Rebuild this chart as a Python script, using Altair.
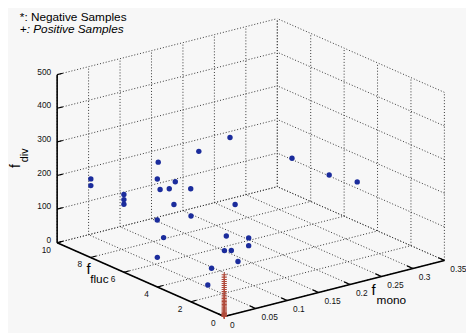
import altair as alt
import pandas as pd

# ---------------- data ----------------
neg_mono = [0.027, 0.027, 0.053, 0.053, 0.053, 0.142, 0.119, 0.081, 0.214, 0.053,
            0.055, 0.084, 0.072, 0.053, 0.106, 0.097, 0.080, 0.106, 0.063, 0.083,
            0.092, 0.092, 0.080, 0.091, 0.053, 0.075, 0.033, 0.027, 0.220, 0.238]
neg_fluc = [9, 9, 8, 8, 8, 5, 6, 7, 4, 6,
            5, 7, 6, 4, 7, 3, 5, 8, 6, 3,
            2, 2, 3, 3, 6, 2, 2, 2, 2, 1]
neg_div = [199, 179, 162, 147, 133, 355, 303, 267, 281, 252,
           265, 184, 214, 267, 129, 221, 151, 61, 73, 134,
           146, 123, 92, 87, 19, 84, 84, 37, 272, 265]

pos_div = [124, 117, 110, 104, 98, 92, 86, 80, 74, 69, 63, 58, 53, 48, 44, 40,
           36, 32, 28, 25, 22, 19, 16, 13, 11, 9, 7, 5, 3, 2, 1, 0]
pos_mono = [0.0] * len(pos_div)
pos_fluc = [0.0] * len(pos_div)

mono_ticks = [0, 0.05, 0.1, 0.15, 0.2, 0.25, 0.3, 0.35]
mono_labels = ["0", "0.05", "0.1", "0.15", "0.2", "0.25", "0.3", "0.35"]
fluc_ticks = [0, 2, 4, 6, 8, 10]
fluc_labels = ["0", "2", "4", "6", "8", "10"]
div_ticks = [0, 100, 200, 300, 400, 500]
div_labels = ["0", "100", "200", "300", "400", "500"]

legend_lines = ["*: Negative Samples", "+: Positive Samples"]

# ---------------- view (fixed 3-D projection) ----------------
O = (228, 319)          # screen position of (mono=0, fluc=0, div=0)
VM = (640, -162.9)      # per unit f_mono
VF = (-17, -7.5)        # per unit f_fluc
VZ = (0, -0.342)        # per unit f_div
M_MAX, F_MAX, Z_MAX = 0.35, 10, 500


def px(s=""):
    return f"{O[0]} + {VM[0]}*datum.m{s} + {VF[0]}*datum.f{s} + {VZ[0]}*datum.z{s}"


def py(s=""):
    return f"{O[1]} + {VM[1]}*datum.m{s} + {VF[1]}*datum.f{s} + {VZ[1]}*datum.z{s}"


W, H = 466, 325
XS = alt.Scale(domain=[8, 8 + W], nice=False, zero=False)
YS = alt.Scale(domain=[8, 8 + H], nice=False, zero=False, reverse=True)


def X(f="px"):
    return alt.X(f"{f}:Q", scale=XS, axis=None)


def Y(f="py"):
    return alt.Y(f"{f}:Q", scale=YS, axis=None)


def seg_chart(df, **mark):
    return (alt.Chart(df).mark_rule(**mark)
            .transform_calculate(px=px(), py=py(), px2=px("2"), py2=py("2"))
            .encode(x=X(), y=Y(), x2="px2:Q", y2="py2:Q"))


# grid segments on the floor and the two back walls
grid = []
for m in mono_ticks:
    grid.append((m, 0, 0, m, F_MAX, 0))
    grid.append((m, F_MAX, 0, m, F_MAX, Z_MAX))
for f in fluc_ticks:
    grid.append((0, f, 0, M_MAX, f, 0))
    grid.append((M_MAX, f, 0, M_MAX, f, Z_MAX))
for z in div_ticks:
    grid.append((0, F_MAX, z, M_MAX, F_MAX, z))
    grid.append((M_MAX, 0, z, M_MAX, F_MAX, z))
grid_df = pd.DataFrame(grid, columns=["m", "f", "z", "m2", "f2", "z2"])

axes_df = pd.DataFrame([(0, F_MAX, 0, 0, F_MAX, Z_MAX),
                        (0, 0, 0, 0, F_MAX, 0),
                        (0, 0, 0, M_MAX, 0, 0)],
                       columns=["m", "f", "z", "m2", "f2", "z2"])

ticks = []
for z in div_ticks:
    ticks.append((0, F_MAX, z, 0.009, F_MAX, z))
for f in fluc_ticks:
    ticks.append((0, f, 0, 0.009, f, 0))
for m in mono_ticks:
    ticks.append((m, 0, 0, m, 0.35, 0))
ticks_df = pd.DataFrame(ticks, columns=["m", "f", "z", "m2", "f2", "z2"])

grid_layer = seg_chart(grid_df, color="#333333", strokeWidth=1, strokeDash=[1, 2])
axes_layer = seg_chart(axes_df, color="#000000", strokeWidth=1.6)
ticks_layer = seg_chart(ticks_df, color="#000000", strokeWidth=1.2)

FONT = "Liberation Sans"


def label_chart(df, **mark):
    return (alt.Chart(df).mark_text(font=FONT, fontSize=8.5, color="#111111",
                                    baseline="middle", **mark)
            .transform_calculate(px=px(), py=py())
            .encode(x=X(), y=Y(), text="t:N"))


zlab = pd.DataFrame({"m": 0.0, "f": F_MAX, "z": div_ticks, "t": div_labels})
flab = pd.DataFrame({"m": 0.0, "f": fluc_ticks, "z": 0.0, "t": fluc_labels})
mlab = pd.DataFrame({"m": mono_ticks, "f": 0.0, "z": 0.0, "t": mono_labels})

zlab_layer = label_chart(zlab, align="right", dx=-6, dy=-3)
flab_layer = label_chart(flab, align="center", dx=-11, dy=7)
mlab_layer = label_chart(mlab, align="left", dx=6, dy=9)

neg_df = pd.DataFrame({"m": neg_mono, "f": neg_fluc, "z": neg_div})
pos_df = pd.DataFrame({"m": pos_mono, "f": pos_fluc, "z": pos_div})

neg_layer = (alt.Chart(neg_df).mark_point(shape="circle", filled=True, size=30,
                                          color="#1b2c9c", opacity=1)
             .transform_calculate(px=px(), py=py())
             .encode(x=X(), y=Y()))
pos_layer = (alt.Chart(pos_df).mark_point(shape="M-1,0H1M0,-1V1", filled=False, size=28,
                                          color="#b04a3a", strokeWidth=1.1, opacity=1)
             .transform_calculate(px=px(), py=py())
             .encode(x=X(), y=Y()))


def txt(t, x, y, size, angle=0, style="normal"):
    return (alt.Chart(pd.DataFrame({"t": [t]}))
            .mark_text(font=FONT, fontSize=size, color="#000000", align="center",
                       baseline="middle", angle=angle, fontStyle=style)
            .encode(x=alt.value(x - 8), y=alt.value(y - 8), text="t:N"))


titles = [
    txt("f", 16, 166, 14, angle=270),
    txt("div", 25, 155, 11, angle=270),
    txt("f", 90, 271, 15),
    txt("fluc", 101, 281, 12),
    txt("f", 380, 292, 15),
    txt("mono", 398, 302, 12),
]

legend = [
    (alt.Chart(pd.DataFrame({"t": [legend_lines[0]]}))
     .mark_text(font=FONT, fontSize=12, align="left", baseline="middle", color="#000")
     .encode(x=alt.value(12), y=alt.value(6), text="t:N")),
    (alt.Chart(pd.DataFrame({"t": [legend_lines[1]]}))
     .mark_text(font=FONT, fontSize=12, align="left", baseline="middle", color="#000",
                fontStyle="italic")
     .encode(x=alt.value(12), y=alt.value(19), text="t:N")),
]

chart = alt.layer(grid_layer, axes_layer, ticks_layer, zlab_layer, flab_layer, mlab_layer,
                  neg_layer, pos_layer, *titles, *legend).properties(
    width=W, height=H, autosize=alt.AutoSizeParams(type="none"), padding=0,
    background="#f7f7f7",
).configure_view(stroke=None)

chart.save("out.html", embed_options={"renderer": "svg", "actions": False})
